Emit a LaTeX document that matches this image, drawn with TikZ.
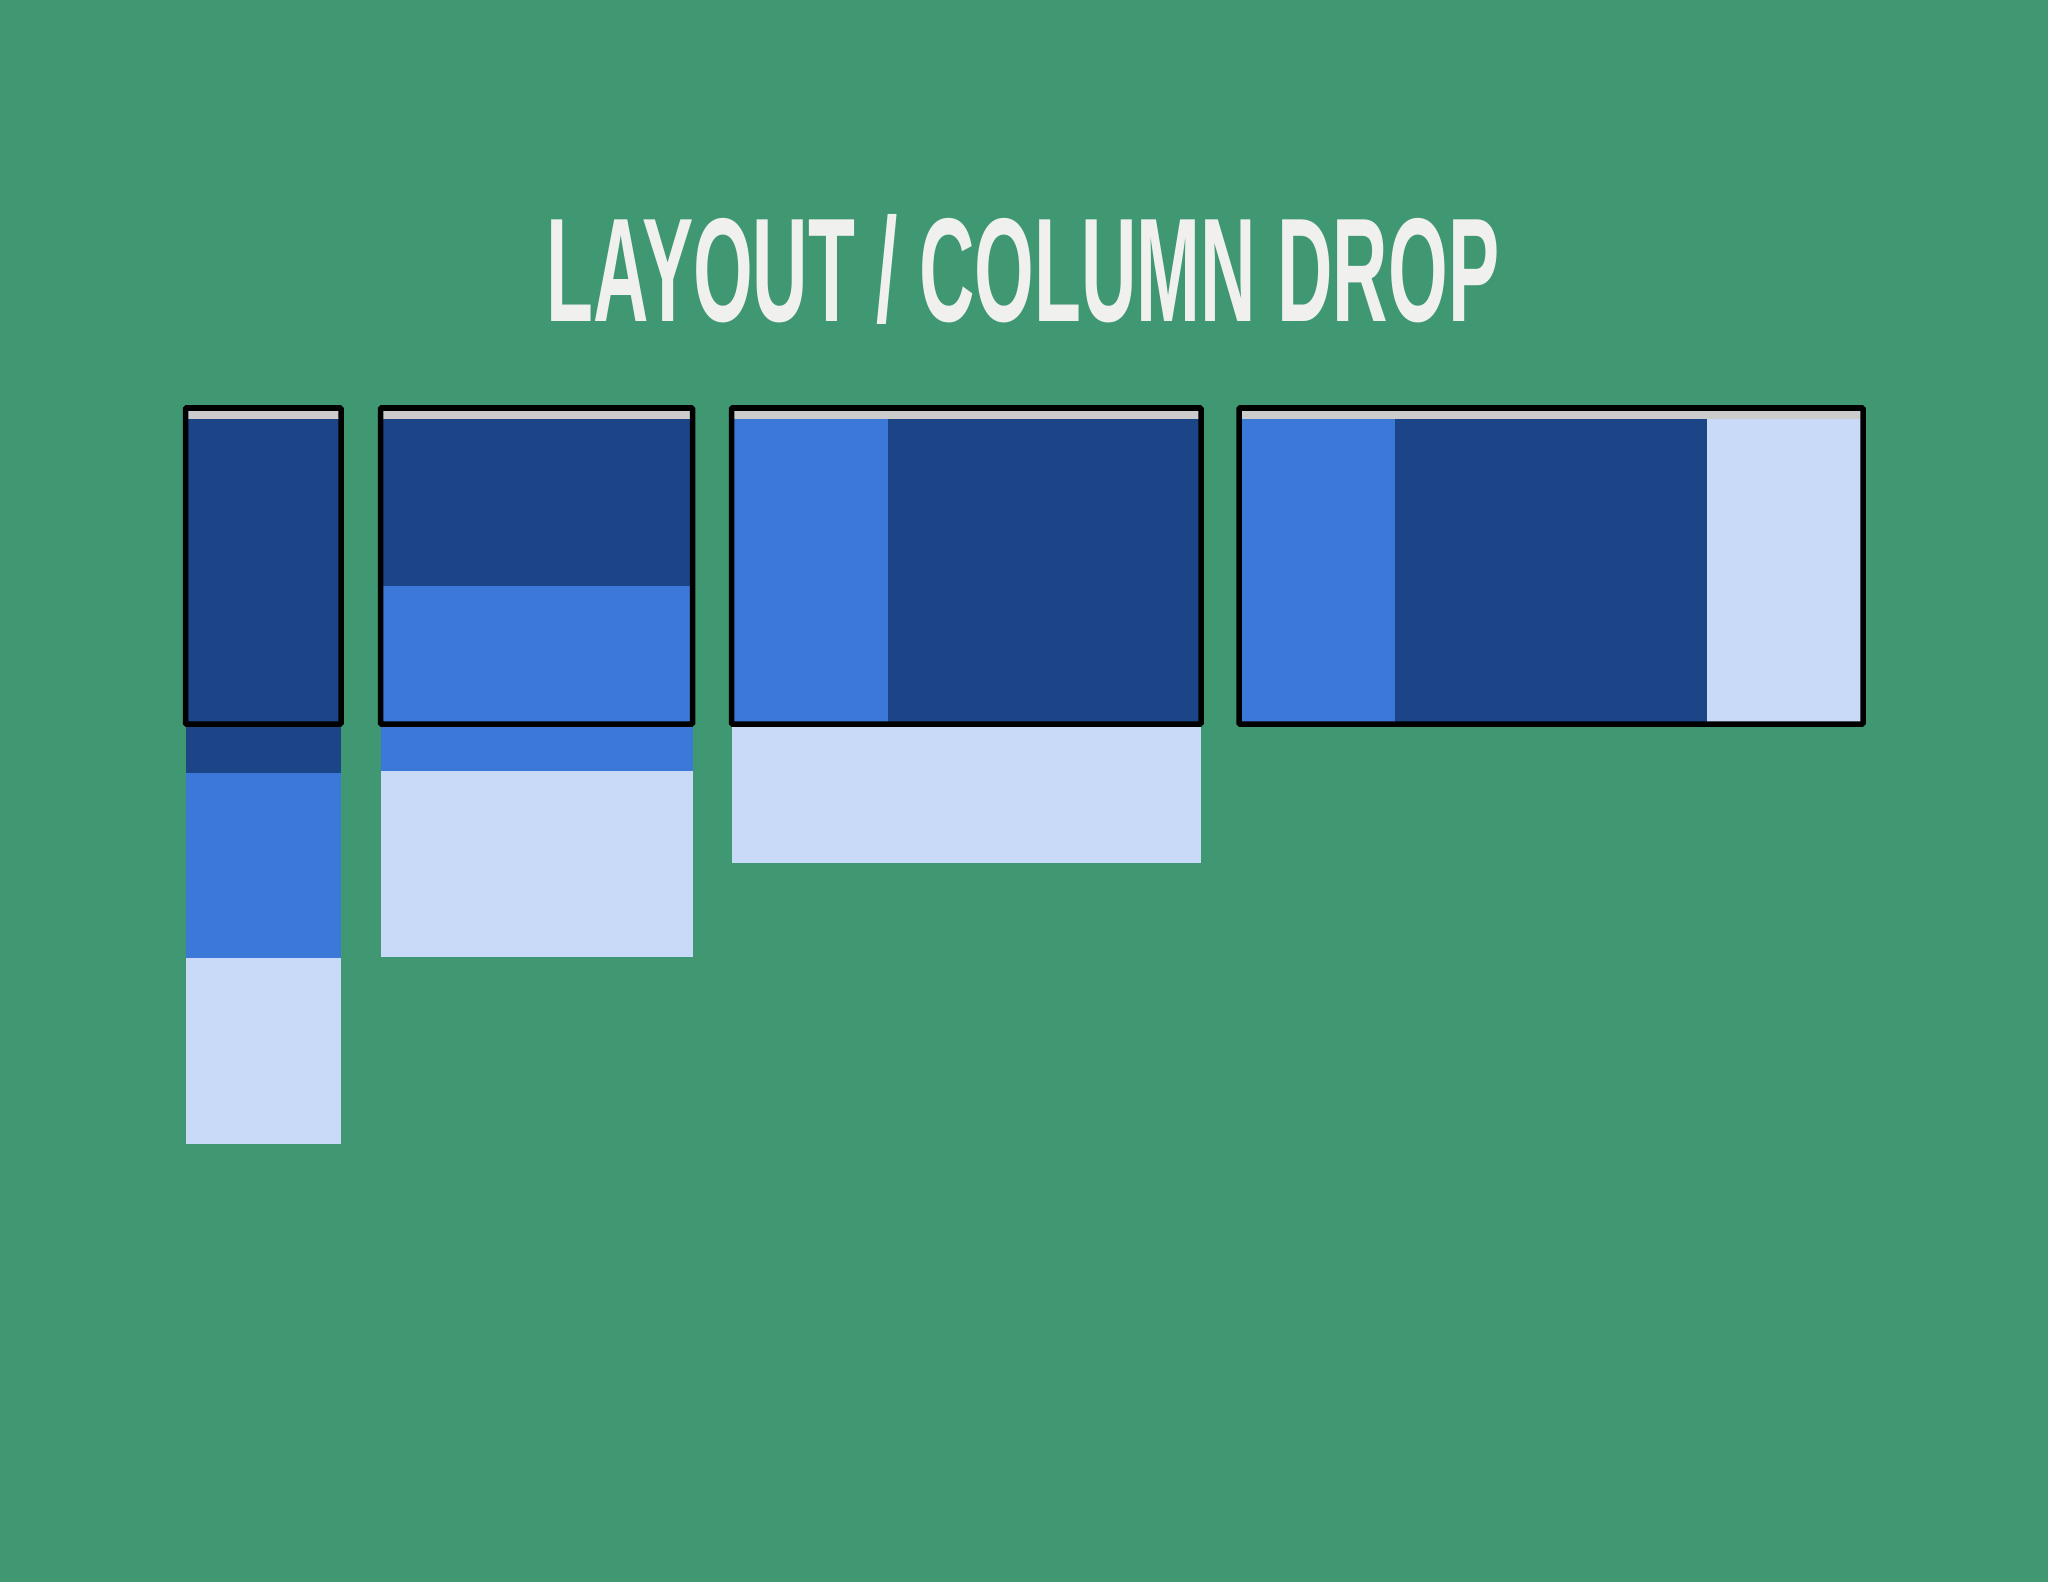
\documentclass[tikz,border=0pt]{standalone}
\usepackage{fontspec}
\setmainfont{Liberation Sans}
\usepackage{graphicx}
\definecolor{bg}{HTML}{409873}
\definecolor{darkb}{HTML}{1C4587}
\definecolor{midb}{HTML}{3C78D8}
\definecolor{paleb}{HTML}{C9DAF8}
\definecolor{strip}{HTML}{CCCCCC}
\definecolor{titlec}{HTML}{F0F0EE}
\tikzset{
  frame/.style={draw=black, line width=0.055cm, rounded corners=0.01cm},
  dk/.style={fill=darkb},
  md/.style={fill=midb},
  pl/.style={fill=paleb},
  gs/.style={fill=strip}
}
\begin{document}
\begin{tikzpicture}[x=0.01cm,y=-0.01cm]
\fill[bg] (0,0) rectangle (2048,1582);
\useasboundingbox (0,0) rectangle (2048,1582);
% title
\node[anchor=base, inner sep=0pt, text=titlec] (title) at (1023,322)
  {\resizebox{9.52cm}{1.07cm}{\bfseries LAYOUT / COLUMN DROP}};
% box 1
\path[dk] (185.5,408) rectangle (341,773);
\path[md] (185.5,773) rectangle (341,958);
\path[pl] (185.5,958) rectangle (341,1144);
\path[gs] (185.5,408) rectangle (341,419);
\draw[frame] (185.5,408) rectangle (341,724);
% box 2
\path[dk] (380.5,408) rectangle (692.5,586);
\path[md] (380.5,586) rectangle (692.5,771);
\path[pl] (380.5,771) rectangle (692.5,957);
\path[gs] (380.5,408) rectangle (692.5,419);
\draw[frame] (380.5,408) rectangle (692.5,724);
% box 3
\path[md] (731.5,408) rectangle (888,724);
\path[dk] (888,408) rectangle (1201,724);
\path[pl] (731.5,724) rectangle (1201,863);
\path[gs] (731.5,408) rectangle (1201,419);
\draw[frame] (731.5,408) rectangle (1201,724);
% box 4
\path[md] (1239,408) rectangle (1395,724);
\path[dk] (1395,408) rectangle (1707,724);
\path[pl] (1707,408) rectangle (1863,724);
\path[gs] (1239,408) rectangle (1863,419);
\draw[frame] (1239,408) rectangle (1863,724);
\end{tikzpicture}
\end{document}
